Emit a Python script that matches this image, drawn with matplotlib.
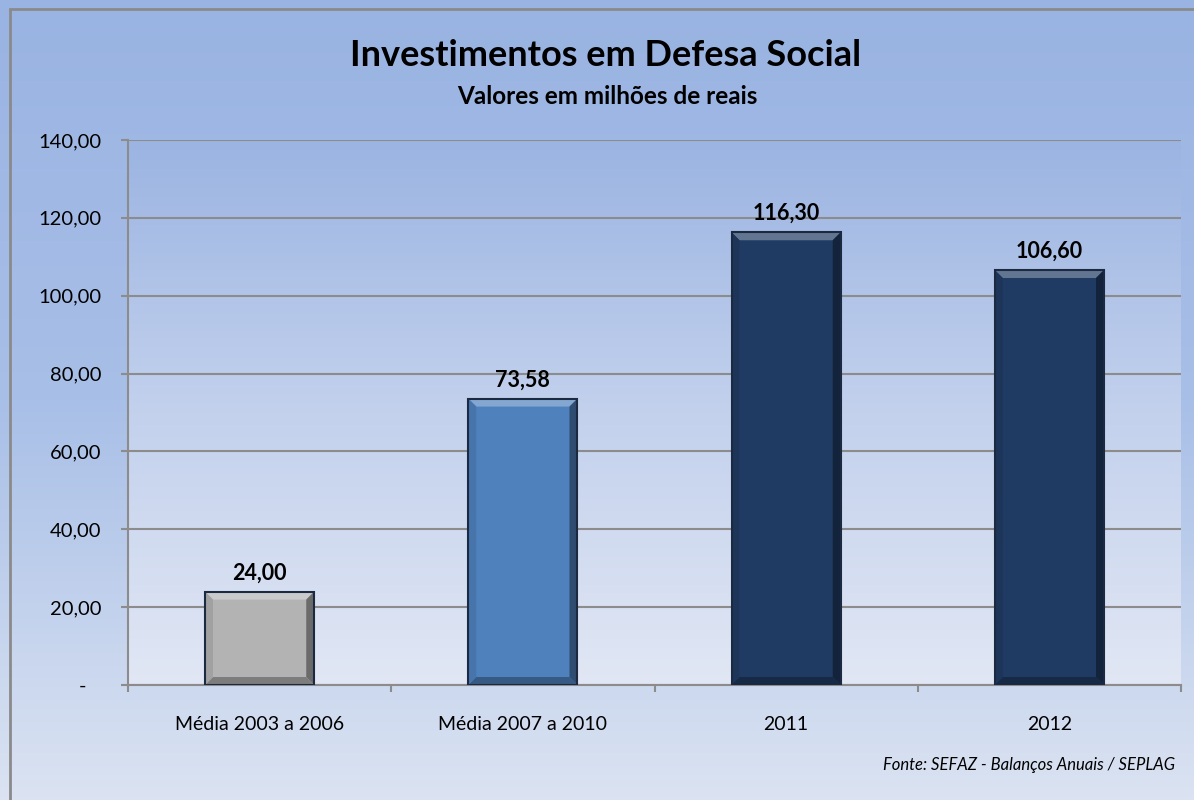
import matplotlib.pyplot as plt
import matplotlib.colors as mcolors
from matplotlib.patches import Polygon, Rectangle
from matplotlib.ticker import FuncFormatter, FixedLocator
import numpy as np

plt.rcParams['font.family'] = ['Lato', 'DejaVu Sans']

# dados
categorias = ['Média 2003 a 2006', 'Média 2007 a 2010', '2011', '2012']
valores = [24.00, 73.58, 116.30, 106.60]
rotulos = ['24,00', '73,58', '116,30', '106,60']
cores = ['#b3b3b3', '#4f81bd', '#1f3b63', '#1f3b63']
y_ticks = [0, 20, 40, 60, 80, 100, 120, 140]

fig = plt.figure(figsize=(11.94, 8), dpi=100)

# fundo com gradiente
grad = np.linspace(0, 1, 256).reshape(-1, 1)
fundo = mcolors.LinearSegmentedColormap.from_list('fundo', ['#99b3e2', '#a8bfe7', '#dbe3f2'])
bg = fig.add_axes([0, 0, 1, 1], zorder=-10)
bg.imshow(grad, aspect='auto', cmap=fundo, extent=[0, 1, 0, 1], origin='upper')
bg.set_axis_off()
bg.add_patch(Rectangle((10 / 1194, -0.1), 1.2, (800 - 9) / 800 + 0.1, fill=False,
                       edgecolor='#8a8a8a', lw=2, transform=bg.transAxes))

ax = fig.add_axes([128 / 1194, 115 / 800, (1181 - 128) / 1194, 545 / 800])
area = mcolors.LinearSegmentedColormap.from_list('area', ['#9bb4e2', '#c3d1ed', '#e1e7f4'])
ax.imshow(grad, aspect='auto', cmap=area, extent=[0, 1, 0, 1], origin='upper',
          transform=ax.transAxes, zorder=0)

x = np.arange(len(categorias))
bars = ax.bar(x, valores, width=0.415, color=cores, edgecolor='#1b2a40', lw=1.2, zorder=3)

ax.set_xlim(-0.5, len(categorias) - 0.5)
ax.set_ylim(0, 140)
ax.set_yticks(y_ticks)
ax.yaxis.set_major_formatter(FuncFormatter(
    lambda v, p: '-   ' if v == 0 else f'{v:,.2f}'.replace(',', 'X').replace('.', ',').replace('X', '.')))
ax.grid(axis='y', color='#8c8c8c', lw=1.5, zorder=1)
ax.set_axisbelow(True)

# efeito de bisel nas barras
fig.canvas.draw()
px_x = (ax.get_xlim()[1] - ax.get_xlim()[0]) / ax.bbox.width
px_y = (ax.get_ylim()[1] - ax.get_ylim()[0]) / ax.bbox.height
for b, c in zip(bars, cores):
    x0, w, h = b.get_x(), b.get_width(), b.get_height()
    x1 = x0 + w
    dx, dy = 8 * px_x, 8 * px_y
    base = np.array(mcolors.to_rgb(c))
    claro = tuple(base + (1 - base) * 0.3)
    escuro = tuple(base * 0.6)
    ax.add_patch(Polygon([(x0, h), (x1, h), (x1 - dx, h - dy), (x0 + dx, h - dy)],
                         color=claro, lw=0, zorder=4))
    ax.add_patch(Polygon([(x1, h), (x1, 0), (x1 - dx, dy), (x1 - dx, h - dy)],
                         color=escuro, lw=0, zorder=4))
    ax.add_patch(Polygon([(x0, 0), (x1, 0), (x1 - dx, dy), (x0 + dx, dy)],
                         color=tuple(base * 0.7), lw=0, zorder=4))
    ax.add_patch(Polygon([(x0, h), (x0, 0), (x0 + dx, dy), (x0 + dx, h - dy)],
                         color=tuple(base * 0.9), lw=0, zorder=4))
    ax.add_patch(Rectangle((x0, 0), w, h, fill=False, edgecolor='#1b2a40', lw=1.5, zorder=5))

for xi, v, r in zip(x, valores, rotulos):
    ax.annotate(r, (xi, v), xytext=(0, 6), textcoords='offset points', ha='center',
                va='bottom', fontsize=15.5, fontweight='bold', zorder=6)

ax.set_xticks(x)
ax.set_xticklabels(categorias, fontsize=14)
ax.xaxis.set_minor_locator(FixedLocator(np.arange(len(categorias) + 1) - 0.5))
ax.tick_params(axis='x', which='major', length=0, pad=22)
ax.tick_params(axis='x', which='minor', length=5, width=1.5, color='#8c8c8c')
ax.tick_params(axis='y', length=5, width=1.5, color='#8c8c8c', pad=14, labelsize=14.5)

for s in ['top', 'right']:
    ax.spines[s].set_visible(False)
for s in ['left', 'bottom']:
    ax.spines[s].set_color('#8c8c8c')
    ax.spines[s].set_linewidth(1.5)

fig.text(606 / 1194, 1 - 55 / 800, 'Investimentos em Defesa Social', ha='center',
         va='center', fontsize=26, fontweight='bold')
fig.text(607 / 1194, 1 - 97 / 800, 'Valores em milhões de reais', ha='center',
         va='center', fontsize=17.5, fontweight='bold')
fig.text(1175 / 1194, 1 - 765 / 800, 'Fonte: SEFAZ - Balanços Anuais / SEPLAG', ha='right',
         va='center', fontsize=12, style='italic')

fig.savefig('out.png', dpi=100)
